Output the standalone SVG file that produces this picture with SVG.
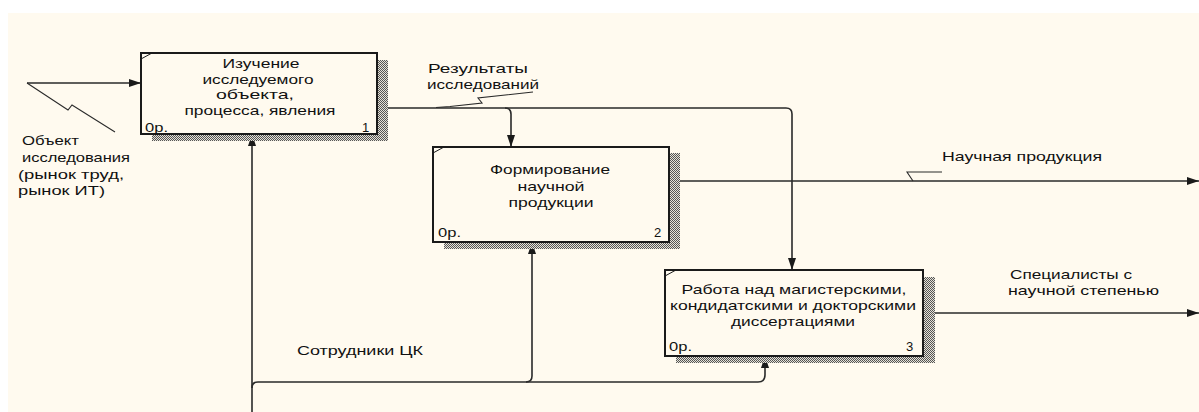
<svg xmlns="http://www.w3.org/2000/svg" width="1199" height="412" viewBox="0 0 1199 412">
  <defs>
    <style>
      text { font-family: "Liberation Sans", Arial, sans-serif; font-size: 13px; fill: #111; }
      .c { text-anchor: middle; }
      .box { fill: #fffaef; stroke: #1a1a1a; stroke-width: 2; }
      .shadow { fill: url(#hatch); }
      .tick { fill: none; stroke: #1a1a1a; stroke-width: 1; }
      .line { fill: none; stroke: #2a2a2a; stroke-width: 1.6; }
      .squiggle { fill: none; stroke: #2a2a2a; stroke-width: 1.1; }
    </style>
    <pattern id="hatch" width="2" height="2" patternUnits="userSpaceOnUse">
      <rect width="2" height="2" fill="#e6e2d8"/>
      <rect width="1" height="1" fill="#555"/>
      <rect x="1" y="1" width="1" height="1" fill="#555"/>
    </pattern>
    <marker id="arrow" viewBox="0 0 12 8" refX="12" refY="4" markerWidth="12" markerHeight="8" markerUnits="userSpaceOnUse" orient="auto">
      <path d="M0,0 L12,4 L0,8 Z" fill="#1a1a1a"/>
    </marker>
  </defs>

  <!-- canvas -->
  <rect width="1199" height="412" fill="#ffffff"/>
  <rect x="8" y="13" width="1191" height="399" fill="#fffaef"/>

  <!-- connectors -->
  <g id="connectors">
    <!-- input: research object -->
    <path class="line" d="M27 83 L141 83" marker-end="url(#arrow)"/>
    <path class="squiggle" d="M27 83 L68 110 L72 105 L115 132"/>

    <!-- output of 1: research results, to 2 and 3 -->
    <path class="line" d="M377 108 L786 108 Q792 108 792 114 L792 270" marker-end="url(#arrow)"/>
    <path class="line" d="M505 108 Q511 108 511 114 L511 147" marker-end="url(#arrow)"/>
    <path class="squiggle" d="M436 107.5 L450 106.5 L482 103 L478 98 L533 92"/>

    <!-- output of 2: scientific products -->
    <path class="line" d="M669 181 L1199 181" marker-end="url(#arrow)"/>
    <path class="squiggle" d="M913 181 L907 172 L942 172"/>

    <!-- output of 3: specialists -->
    <path class="line" d="M923 313 L1199 313" marker-end="url(#arrow)"/>

    <!-- mechanism: staff -->
    <path class="line" d="M252 412 L252 134" marker-end="url(#arrow)"/>
    <path class="line" d="M252 388 Q252 382 258 382 L758 382 Q765 382 765 375 L765 356" marker-end="url(#arrow)"/>
    <path class="line" d="M526 382 Q532 382 532 376 L532 242" marker-end="url(#arrow)"/>
  </g>

  <!-- connector labels -->
  <g id="labels">
    <text x="22" y="145" textLength="57" lengthAdjust="spacingAndGlyphs">Объект</text>
    <text x="22" y="162" textLength="108" lengthAdjust="spacingAndGlyphs">исследования</text>
    <text x="18" y="179" textLength="106" lengthAdjust="spacingAndGlyphs">(рынок труд,</text>
    <text x="18" y="195" textLength="87" lengthAdjust="spacingAndGlyphs">рынок ИТ)</text>
    <text x="428" y="73" textLength="100" lengthAdjust="spacingAndGlyphs">Результаты</text>
    <text x="427" y="89" textLength="112" lengthAdjust="spacingAndGlyphs">исследований</text>
    <text x="942" y="161" textLength="160" lengthAdjust="spacingAndGlyphs">Научная продукция</text>
    <text x="1010" y="279" textLength="122" lengthAdjust="spacingAndGlyphs">Специалисты с</text>
    <text x="1008" y="295" textLength="151" lengthAdjust="spacingAndGlyphs">научной степенью</text>
    <text x="297" y="355" textLength="126" lengthAdjust="spacingAndGlyphs">Сотрудники ЦК</text>
  </g>

  <!-- activity 1 -->
  <g id="node1">
    <rect class="shadow" x="152" y="60" width="236" height="81"/>
    <rect class="box" x="141" y="53" width="236" height="81"/>
    <path class="tick" d="M141 59 L152 53"/>
    <text class="c" x="261" y="68" textLength="77" lengthAdjust="spacingAndGlyphs">Изучение</text>
    <text class="c" x="258" y="84" textLength="111" lengthAdjust="spacingAndGlyphs">исследуемого</text>
    <text class="c" x="255" y="99" textLength="78" lengthAdjust="spacingAndGlyphs">объекта,</text>
    <text class="c" x="260" y="115" textLength="151" lengthAdjust="spacingAndGlyphs">процесса, явления</text>
    <text x="145" y="132" textLength="23" lengthAdjust="spacingAndGlyphs">0р.</text>
    <text x="362" y="132" font-size="14">1</text>
  </g>

  <!-- activity 2 -->
  <g id="node2">
    <rect class="shadow" x="444" y="153" width="236" height="96"/>
    <rect class="box" x="433" y="147" width="236" height="95"/>
    <path class="tick" d="M433 153 L444 147"/>
    <text class="c" x="550" y="174" textLength="120" lengthAdjust="spacingAndGlyphs">Формирование</text>
    <text class="c" x="551" y="191" textLength="67" lengthAdjust="spacingAndGlyphs">научной</text>
    <text class="c" x="551" y="207" textLength="85" lengthAdjust="spacingAndGlyphs">продукции</text>
    <text x="438" y="237" textLength="23" lengthAdjust="spacingAndGlyphs">0р.</text>
    <text x="654" y="237" font-size="14">2</text>
  </g>

  <!-- activity 3 -->
  <g id="node3">
    <rect class="shadow" x="676" y="277" width="259" height="86"/>
    <rect class="box" x="665" y="270" width="258" height="86"/>
    <path class="tick" d="M665 276 L676 270"/>
    <text class="c" x="794" y="294" textLength="225" lengthAdjust="spacingAndGlyphs">Работа над магистерскими,</text>
    <text class="c" x="793" y="310" textLength="246" lengthAdjust="spacingAndGlyphs">кондидатскими и докторскими</text>
    <text class="c" x="793" y="326" textLength="124" lengthAdjust="spacingAndGlyphs">диссертациями</text>
    <text x="669" y="351" textLength="23" lengthAdjust="spacingAndGlyphs">0р.</text>
    <text x="906" y="351" font-size="14">3</text>
  </g>
</svg>
